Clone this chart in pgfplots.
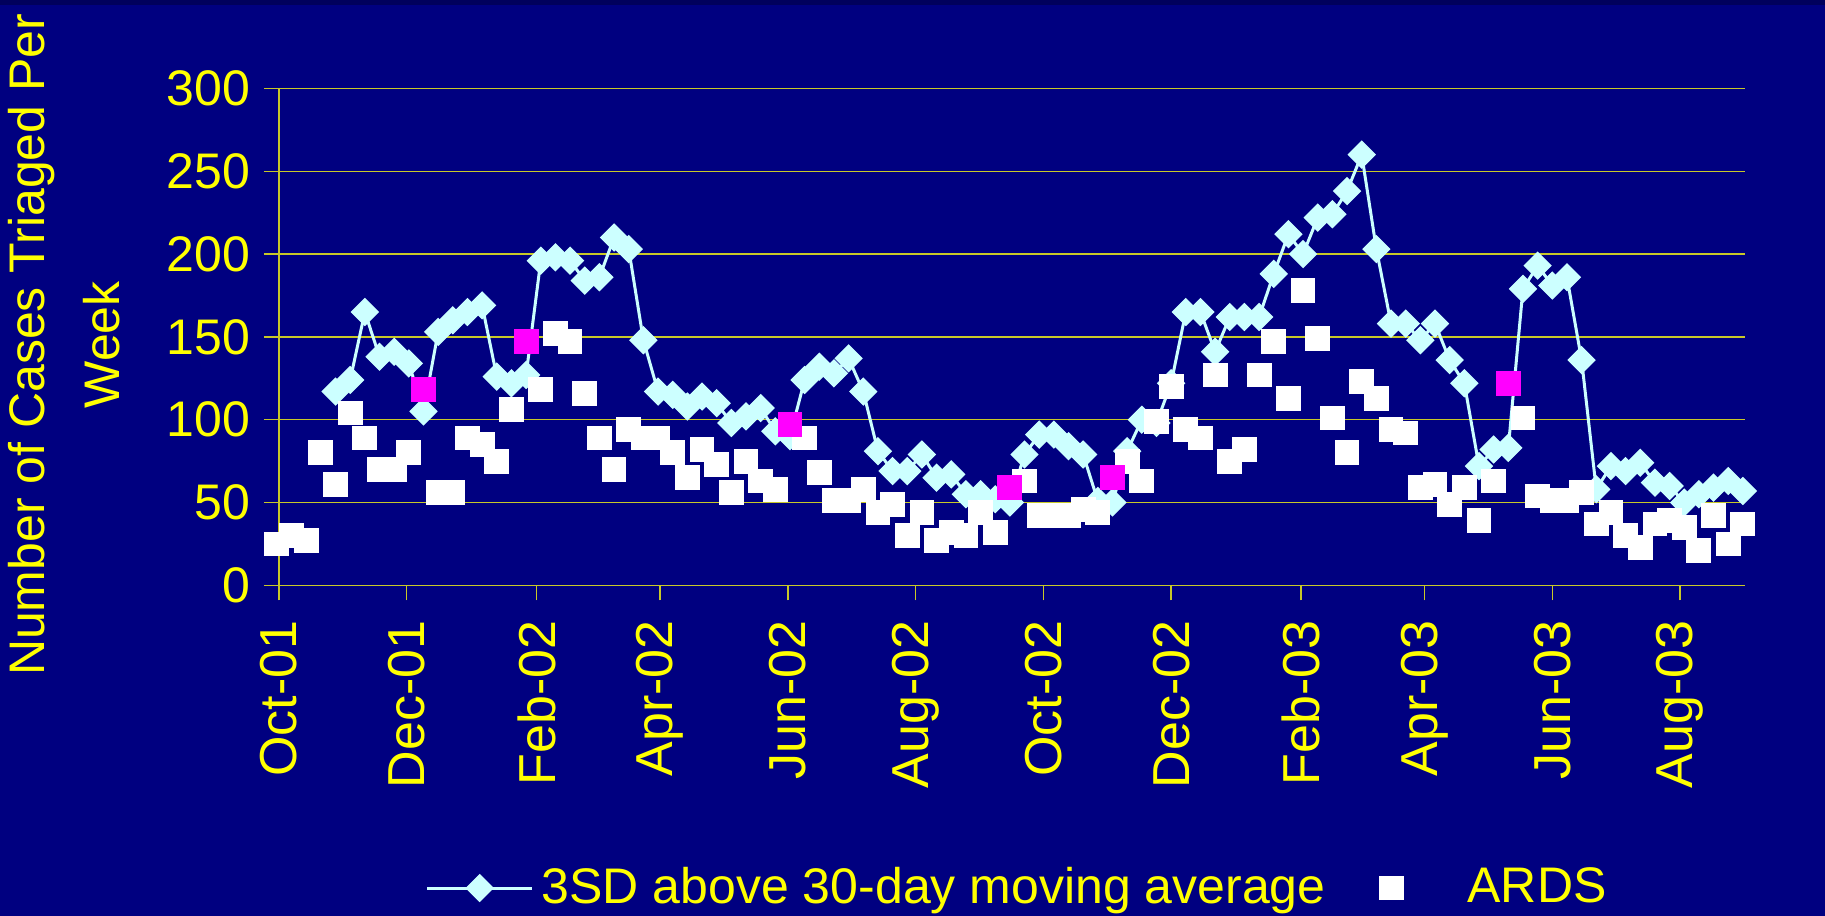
\documentclass[border=0pt]{standalone}
\usepackage{pgfplots}
\pgfplotsset{compat=1.18}
\usepackage{pgfplotstable}
\usepackage{fontspec}
\setmainfont{Liberation Sans}

\definecolor{bgnavy}{RGB}{0,0,128}
\definecolor{topband}{RGB}{0,0,92}
\definecolor{diam}{RGB}{204,255,255}
\definecolor{hl}{RGB}{255,0,255}
\definecolor{txt}{RGB}{255,255,0}
\definecolor{gridc}{RGB}{200,200,40}

\pgfplotsset{
  avgleg/.style={legend image code/.code={\draw[mark repeat=2,mark phase=2,##1]
      plot coordinates {(0pt,0pt) (13.1pt,0pt) (26.25pt,0pt)};}},
  ardsleg/.style={legend image code/.code={\path[draw=none,fill=none] (-3pt,0pt) rectangle (17pt,0pt);
      \draw[##1] plot[only marks] coordinates {(0pt,0pt)};}},
}

% weekly points, x = days since 1 Oct 2001
\pgfplotstableread{
day val
27 117
34 124
41 165
48 138
55 141
62 134
69 105
76 153
83 160
90 165
97 169
104 126
111 122
118 127
125 196
132 198
139 196
146 184
153 186
160 210
167 203
174 148
181 117
188 115
195 108
202 114
209 110
216 98
223 102
230 107
237 93
244 90
251 124
258 132
265 128
272 137
279 117
286 81
293 69
300 69
307 79
314 65
321 67
328 55
335 55
342 52
349 50
356 79
363 91
370 91
377 84
384 79
391 51
398 50
405 81
412 100
419 98
426 122
433 165
440 165
447 141
454 162
461 162
468 162
475 188
482 212
489 200
496 222
503 224
510 238
517 260
524 203
531 158
538 158
545 148
552 158
559 136
566 122
573 72
580 82
587 83
594 179
601 193
608 181
615 186
622 136
629 58
636 72
643 69
650 74
657 62
664 60
671 50
678 55
685 59
692 63
699 57
}\avgtab

\pgfplotstableread{
day val
-1 25
6 30
13 27
20 80
27 61
34 104
41 89
48 70
55 70
62 80
76 56
83 56
90 89
97 85
104 75
111 106
125 118
132 152
139 147
146 116
153 89
160 70
167 94
174 89
181 89
188 80
195 65
202 82
209 73
216 56
223 75
230 63
237 58
251 89
258 68
265 51
272 51
279 58
286 44
293 49
300 30
307 44
314 27
321 32
328 30
335 44
342 32
356 63
363 42
370 42
377 42
384 46
391 44
405 75
412 63
419 99
426 120
433 94
440 89
447 127
454 75
461 82
468 127
475 147
482 113
489 178
496 149
503 101
510 80
517 123
524 113
531 94
538 92
545 59
552 61
559 49
566 59
573 39
580 63
594 101
601 54
608 51
615 51
622 56
629 37
636 44
643 30
650 23
657 37
664 39
671 35
678 21
685 42
692 25
699 37
}\ardstab

% ARDS weeks shown in magenta
\pgfplotstableread{
day val
69 118
118 147
244 97
349 59
398 65
587 122
}\ardshl

\begin{document}
\begin{tikzpicture}
\fill[bgnavy] (0,0) rectangle (456.25pt,229pt);
\fill[topband] (0,227.75pt) rectangle (456.25pt,229pt);
\useasboundingbox (0,0) rectangle (456.25pt,229pt);
\begin{axis}[
    at={(69.75pt,82.65pt)}, anchor=south west,
    scale only axis, width=366.5pt, height=124.25pt,
    xmin=0, xmax=700, ymin=0, ymax=300,
    axis x line*=bottom, axis y line*=left,
    axis line style={gridc,line width=0.35pt},
    ytick={0,50,...,300},
    xtick={0,61,123,182,243,304,365,426,488,547,608,669},
    xticklabels={Oct-01,Dec-01,Feb-02,Apr-02,Jun-02,Aug-02,Oct-02,Dec-02,Feb-03,Apr-03,Jun-03,Aug-03},
    tick align=outside, major tick length=3.75pt,
    tick style={gridc,line width=0.35pt},
    ymajorgrids, grid style={gridc,line width=0.35pt},
    tick label style={font=\fontsize{12.5}{15}\selectfont,text=txt},
    xticklabel style={rotate=90,anchor=east,font=\fontsize{13}{15}\selectfont},
    xticklabel shift=1.5pt,
    /pgf/number format/assume math mode=true,
    ylabel={Number of Cases Triaged Per\\Week},
    ylabel style={align=center,font=\fontsize{12.5}{18.75}\selectfont,text=txt,
      at={(axis description cs:-0.1467,0.484)},anchor=center},
    legend columns=2,
    legend style={at={(axis description cs:0.0996,-0.609)},anchor=west,
      draw=none,fill=none,text=txt,inner sep=0pt,
      font=\fontsize{12.5}{15}\selectfont,
      /tikz/every even column/.append style={column sep=11.5pt}},
    clip=false,
  ]
  \addplot[color=diam,line width=0.75pt,mark=square*,mark size=2.36pt,
    mark options={rotate=45,fill=diam,draw=diam,line width=0.3pt},avgleg]
    table[x=day,y=val]{\avgtab};
  \addlegendentry{3SD above 30-day moving average}
  \addplot[only marks,mark=square*,mark size=2.9pt,
    mark options={fill=white,draw=white},ardsleg]
    table[x=day,y=val]{\ardstab};
  \addlegendentry{ARDS}
  \addplot[only marks,forget plot,mark=square*,mark size=2.9pt,
    mark options={fill=hl,draw=hl}]
    table[x=day,y=val]{\ardshl};
\end{axis}
\end{tikzpicture}
\end{document}
